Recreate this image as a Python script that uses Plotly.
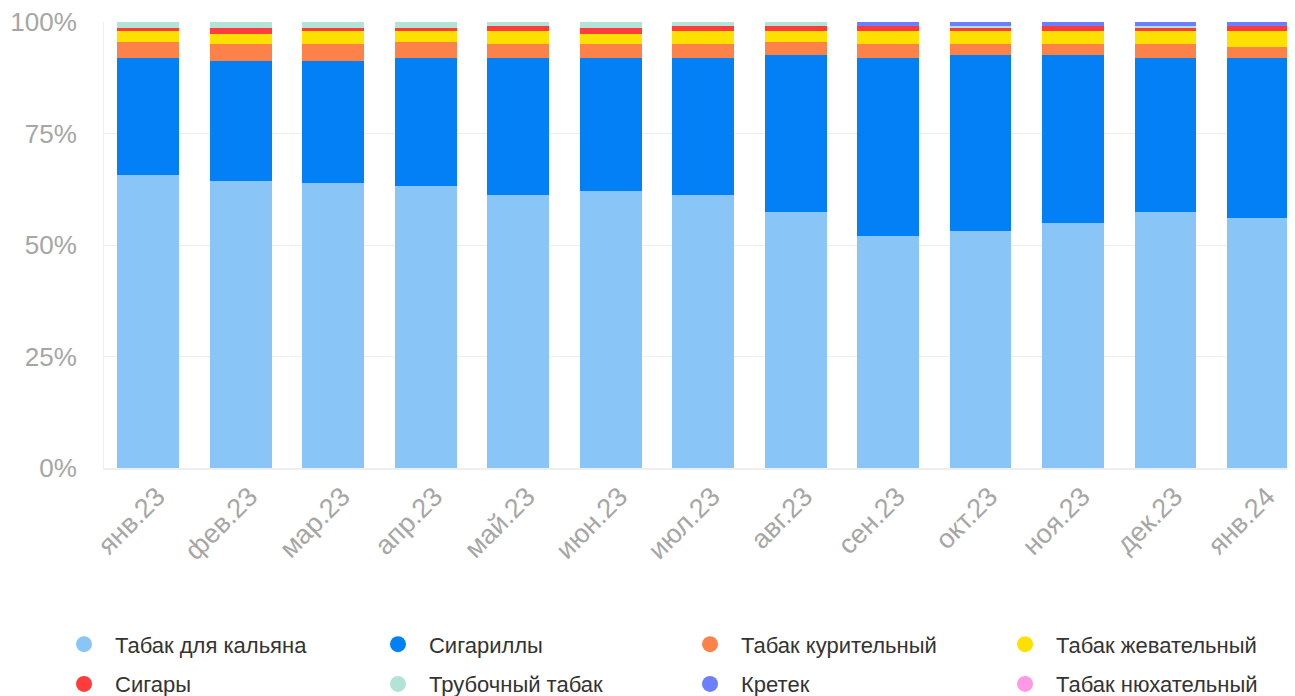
import plotly.graph_objects as go

months = ['янв.23', 'фев.23', 'мар.23', 'апр.23', 'май.23', 'июн.23', 'июл.23',
          'авг.23', 'сен.23', 'окт.23', 'ноя.23', 'дек.23', 'янв.24']

kalyan = [65.7, 64.4, 63.9, 63.3, 61.1, 62.1, 61.1, 57.4, 52.1, 53.2, 55.0, 57.4, 56.1]
sigarilly = [26.2, 26.9, 27.4, 28.6, 30.8, 29.8, 30.8, 35.2, 39.8, 39.4, 37.6, 34.5, 35.8]
kuritelny = [3.6, 3.8, 3.8, 3.6, 3.2, 3.2, 3.2, 2.9, 3.2, 2.5, 2.5, 3.2, 2.5]
zhevatelny = [2.5, 2.2, 2.9, 2.5, 2.9, 2.2, 2.9, 2.5, 2.9, 2.9, 2.9, 2.9, 3.6]
sigary = [0.7, 1.4, 0.7, 0.7, 1.1, 1.4, 1.1, 1.1, 1.1, 0.7, 1.1, 0.7, 1.1]
trubochny = [1.3, 1.3, 1.3, 1.3, 0.9, 1.3, 0.9, 0.9, 0.0, 0.4, 0.0, 0.4, 0.0]
kretek = [0.0, 0.0, 0.0, 0.0, 0.0, 0.0, 0.0, 0.0, 0.9, 0.9, 0.9, 0.9, 0.9]
nyuhatelny = [0.0, 0.0, 0.0, 0.0, 0.0, 0.0, 0.0, 0.0, 0.0, 0.0, 0.0, 0.0, 0.0]

y_ticks = [0, 25, 50, 75, 100]
y_labels = ['0%', '25%', '50%', '75%', '100%']

series = [
    ('Табак для кальяна', kalyan, '#89C6F7'),
    ('Сигариллы', sigarilly, '#0380F5'),
    ('Табак курительный', kuritelny, '#FC824A'),
    ('Табак жевательный', zhevatelny, '#FDE000'),
    ('Сигары', sigary, '#FF3B3B'),
    ('Трубочный табак', trubochny, '#B3E2D6'),
    ('Кретек', kretek, '#6B7FFF'),
    ('Табак нюхательный', nyuhatelny, '#FF99E6'),
]

FONT = 'Liberation Sans'

# legend grid: 4 columns x 2 rows, one small legend per entry
col_x = [-0.0428, 0.2208, 0.4828, 0.7473]
row_y = [-0.3955, -0.4845]

fig = go.Figure()
for name, vals, color in series:
    fig.add_trace(go.Bar(x=months, y=vals, name=name, marker_color=color,
                         marker_line_width=0, showlegend=False))

legends = {}
for i, (name, vals, color) in enumerate(series):
    key = 'legend' if i == 0 else 'legend%d' % (i + 1)
    fig.add_trace(go.Scatter(x=[None], y=[None], mode='markers', name=name,
                             marker=dict(color=color, size=20, symbol='circle'),
                             legend=key))
    legends[key] = dict(x=col_x[i % 4], y=row_y[i // 4], xanchor='left', yanchor='middle',
                        font=dict(family=FONT, size=22, color='#333333'),
                        itemwidth=52, bgcolor='rgba(0,0,0,0)')

# page body has an 8px margin, so the figure is drawn 8px smaller
fig.update_layout(
    barmode='stack',
    bargap=0.33,
    width=1287, height=688,
    margin=dict(l=96, r=0, t=14, b=227.5, autoexpand=False),
    plot_bgcolor='white', paper_bgcolor='white',
    font=dict(family=FONT),
    xaxis=dict(range=[-0.476, 12.4], tickangle=-45, showgrid=False,
               showline=True, linecolor='#EEEEEE', linewidth=2,
               ticklabelstandoff=0, ticklabelshift=9,
               tickfont=dict(family=FONT, size=27, color='#A6A6A6')),
    yaxis=dict(range=[0, 100], tickvals=y_ticks, ticktext=y_labels,
               showgrid=True, gridcolor='#EEEEEE', gridwidth=1,
               showline=True, linecolor='#EEEEEE', linewidth=1,
               zeroline=False, ticklabelstandoff=21, ticklabeloverflow='allow',
               tickfont=dict(family=FONT, size=26, color='#A6A6A6')),
    **legends
)

fig.write_html('out.html')
